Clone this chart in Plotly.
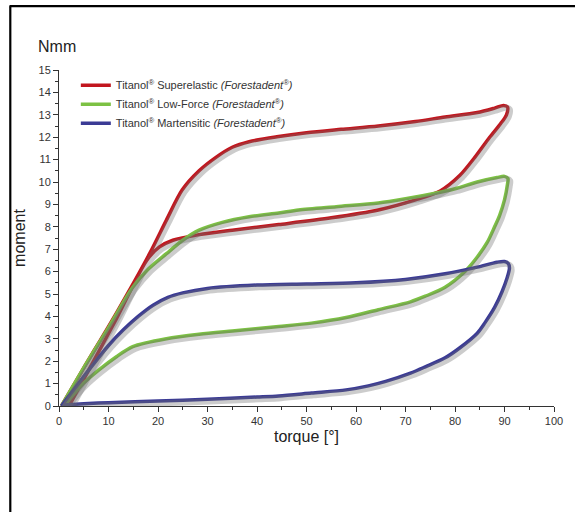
import plotly.graph_objects as go

# ---- data (torque in degrees, moment in Nmm) ----
series_names = [
    "Titanol<sup>®</sup> Superelastic <i>(Forestadent<sup>®</sup>)</i>",
    "Titanol<sup>®</sup> Low-Force <i>(Forestadent<sup>®</sup>)</i>",
    "Titanol<sup>®</sup> Martensitic <i>(Forestadent<sup>®</sup>)</i>",
]
series_colors = ["#c2161e", "#7cc143", "#3b3b95"]

super_x = [0.5, 5, 11.6, 18.3, 21.7, 24.9, 28.3, 31.7, 35, 38.4, 44, 50, 57, 64.5, 72, 78, 84.5, 88, 89.8, 90.6,
           90.4, 89.2, 87, 84, 81, 77, 72, 64.5, 55, 44.4, 35, 28.3, 23, 20.3, 17.7, 11.6, 6, 2]
super_y = [0.0, 1.7, 4.15, 6.8, 8.3, 9.65, 10.5, 11.1, 11.55, 11.8, 12.02, 12.2, 12.35, 12.5, 12.7, 12.9, 13.1, 13.3, 13.42, 13.35,
           13.0, 12.6, 12.0, 11.1, 10.3, 9.6, 9.2, 8.75, 8.4, 8.1, 7.85, 7.65, 7.4, 7.1, 6.5, 3.9, 1.6, 0.0]

low_x = [0.5, 5, 10, 14.9, 18, 21.7, 25, 28.3, 33, 38.4, 44.4, 48.4, 56, 64.5, 70, 76, 80, 84.5, 88.5, 90, 90.7,
         90.6, 90, 89, 88, 86.5, 84.5, 82, 78, 74, 71, 64.5, 58, 51, 44.4, 35, 28.3, 21.7, 14.9, 11.6, 8, 4.9, 1]
low_y = [0.0, 1.7, 3.5, 5.3, 6.1, 6.8, 7.4, 7.85, 8.2, 8.45, 8.62, 8.75, 8.9, 9.06, 9.25, 9.5, 9.7, 10.0, 10.2, 10.25, 10.15,
         9.9, 9.2, 8.5, 8.0, 7.3, 6.65, 6.0, 5.3, 4.9, 4.65, 4.3, 3.95, 3.7, 3.55, 3.35, 3.2, 3.0, 2.65, 2.2, 1.6, 1.0, 0.0]

mart_x = [0.5, 6, 10, 13, 16, 19, 22, 25, 30, 40, 50, 60, 70, 78, 84.5, 88.5, 90, 90.8,
          91, 90.5, 89.5, 88, 86, 84.5, 81, 78, 74, 71, 66, 62.5, 58, 51, 44.4, 40, 30, 20, 10, 5, 1]
mart_y = [0.0, 1.6, 2.7, 3.4, 4.0, 4.5, 4.85, 5.05, 5.25, 5.4, 5.45, 5.5, 5.65, 5.9, 6.2, 6.42, 6.45, 6.35,
          6.15, 5.7, 5.1, 4.4, 3.7, 3.25, 2.6, 2.15, 1.75, 1.47, 1.1, 0.9, 0.72, 0.58, 0.45, 0.4, 0.3, 0.22, 0.15, 0.1, 0.05]

series_x = [super_x, low_x, mart_x]
series_y = [super_y, low_y, mart_y]

x_tickvals = [0, 10, 20, 30, 40, 50, 60, 70, 80, 90, 100]
y_tickvals = list(range(0, 16))

fig = go.Figure()

# soft drop shadows (same data, drawn on slightly offset overlay axes)
for xs, ys in zip(series_x, series_y):
    fig.add_trace(go.Scatter(x=xs, y=ys, mode="lines", xaxis="x2", yaxis="y2",
                             line=dict(color="rgba(110,110,110,0.35)", width=6, shape="spline", smoothing=0.8),
                             showlegend=False, hoverinfo="skip"))

for name, color, xs, ys in zip(series_names, series_colors, series_x, series_y):
    fig.add_trace(go.Scatter(x=xs, y=ys, mode="lines", name=name,
                             line=dict(color=color, width=3.5, shape="spline", smoothing=0.8)))

axis_font = dict(family="Liberation Sans, Arial, sans-serif", size=11, color="#333333")

fig.update_layout(
    width=575, height=512,
    margin=dict(l=59, r=18, t=70, b=106),
    paper_bgcolor="white", plot_bgcolor="white",
    font=dict(family="Liberation Sans, Arial, sans-serif", color="#333333"),
    showlegend=True,
    legend=dict(x=0.034, y=0.998, xanchor="left", yanchor="top",
                font=dict(size=11, color="#333333"), bgcolor="rgba(0,0,0,0)",
                itemwidth=30, tracegroupgap=0),
    xaxis=dict(range=[0, 100], tickvals=x_tickvals, showgrid=False, zeroline=False,
               showline=True, linecolor="#333333", linewidth=1,
               ticks="outside", ticklen=5, tickcolor="#333333", tickfont=axis_font,
               minor=dict(dtick=5, ticks="outside", ticklen=3, tickcolor="#333333"),
               title=dict(text="torque [°]", font=dict(size=16, color="#222222"), standoff=4)),
    yaxis=dict(range=[0, 15], tickvals=y_tickvals, showgrid=False, zeroline=False,
               showline=True, linecolor="#333333", linewidth=1,
               ticks="outside", ticklen=5, tickcolor="#333333", tickfont=axis_font,
               minor=dict(dtick=0.5, ticks="outside", ticklen=3, tickcolor="#333333"),
               title=dict(text="moment", font=dict(size=16, color="#222222"), standoff=8)),
    xaxis2=dict(range=[-0.45, 99.55], overlaying="x", visible=False, anchor="y2"),
    yaxis2=dict(range=[0.1, 15.1], overlaying="y", visible=False, anchor="x2"),
    annotations=[
        dict(text="Nmm", xref="paper", yref="paper", x=-0.046, y=1.07,
             xanchor="left", yanchor="middle", showarrow=False,
             font=dict(size=16, color="#222222")),
    ],
    shapes=[
        dict(type="line", xref="paper", yref="paper", x0=-0.0984, x1=-0.0984, y0=1.19, y1=-0.35,
             line=dict(color="black", width=2.2)),
        dict(type="line", xref="paper", yref="paper", x0=-0.1, x1=1.08, y0=1.19, y1=1.19,
             line=dict(color="black", width=2.2)),
    ],
)

fig.write_html("out.html", config={"displayModeBar": False},
               post_script="document.body.style.margin='0';")
